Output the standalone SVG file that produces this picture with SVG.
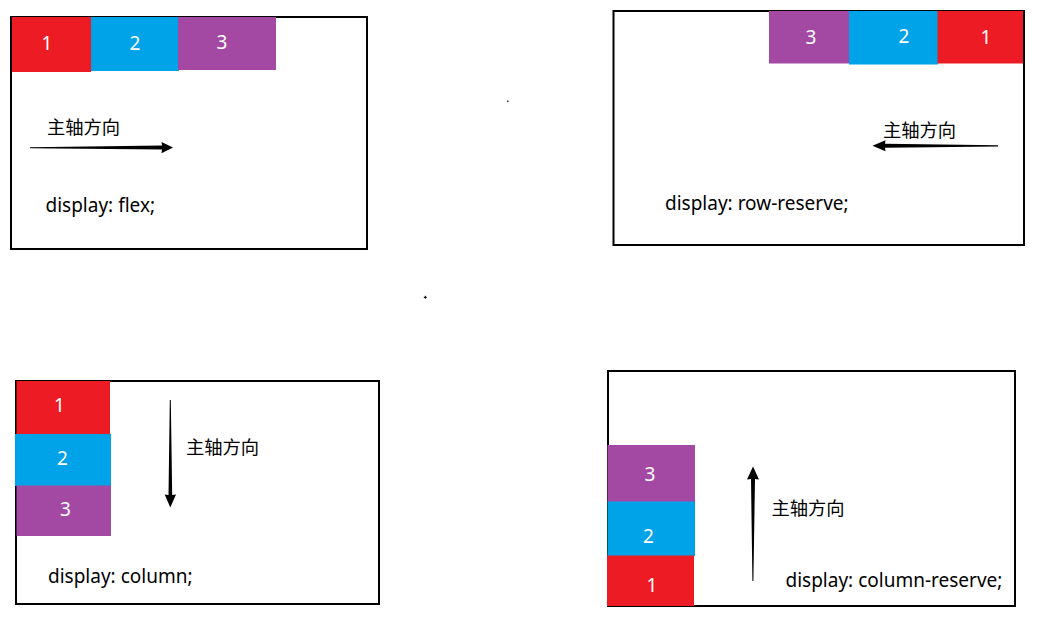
<svg xmlns="http://www.w3.org/2000/svg" width="1041" height="627" viewBox="0 0 1041 627">
<style>
.box{fill:#fff;stroke:#000;stroke-width:2}
.red{fill:#ED1C24}.blue{fill:#00A2E8}.purple{fill:#A349A4}
.num{font-family:"Noto Sans","Noto Sans CJK SC",sans-serif;font-size:19px;fill:#fff;text-anchor:middle}
.lbl{font-family:"Noto Sans","Noto Sans CJK SC",sans-serif;font-size:18.3px;fill:#000}
.code{font-family:"Noto Sans","Noto Sans CJK SC",sans-serif;font-size:19px;fill:#000}
.arr{fill:#000}
</style>
<rect width="1041" height="627" fill="#fff"/>
<g id="flex">
<rect class="box" x="11" y="17" width="356" height="232"/>
<rect class="red" x="12" y="17" width="79" height="55"/>
<rect class="blue" x="91" y="17" width="88" height="54"/>
<rect class="purple" x="178" y="17" width="98" height="53"/>
<text class="num" x="47" y="50">1</text>
<text class="num" x="135" y="50">2</text>
<text class="num" x="222" y="49">3</text>
<text class="lbl" x="47" y="134">主轴方向</text>
<text class="code" x="45.5" y="212">display: flex;</text>
</g>
<g id="row-reserve">
<rect class="box" x="613.5" y="11" width="410.5" height="234"/>
<rect class="purple" x="769" y="11" width="81" height="52.5"/>
<rect class="blue" x="849" y="11" width="89" height="53.5"/>
<rect class="red" x="937.5" y="11" width="85.5" height="52.5"/>
<text class="num" x="811" y="43.5">3</text>
<text class="num" x="904" y="42.5">2</text>
<text class="num" x="986" y="43.5">1</text>
<text class="lbl" x="883" y="136.5">主轴方向</text>
<text class="code" x="665" y="210">display: row-reserve;</text>
</g>
<g id="column">
<rect class="box" x="16" y="381" width="363" height="223"/>
<rect class="red" x="16.5" y="381" width="93.5" height="53"/>
<rect class="blue" x="15" y="434" width="96" height="52"/>
<rect class="purple" x="16.5" y="485.5" width="94.5" height="50.5"/>
<text class="num" x="59.5" y="412">1</text>
<text class="num" x="62.5" y="464.5">2</text>
<text class="num" x="65.5" y="516">3</text>
<text class="lbl" x="186" y="454">主轴方向</text>
<text class="code" x="48" y="583">display: column;</text>
</g>
<g id="column-reserve">
<rect class="box" x="608" y="371" width="407" height="235"/>
<rect class="purple" x="607.5" y="445" width="87.5" height="57"/>
<rect class="blue" x="607.5" y="501.5" width="87.5" height="54.5"/>
<rect class="red" x="607" y="555.5" width="87" height="50.5"/>
<text class="num" x="650" y="480.5">3</text>
<text class="num" x="648.5" y="543">2</text>
<text class="num" x="652" y="591.5">1</text>
<text class="lbl" x="771.5" y="515">主轴方向</text>
<text class="code" x="785.5" y="586.5">display: column-reserve;</text>
</g>
<g id="connectors">
<polygon class="arr" points="30,147.2 162,145.6 161.5,142 173,147.6 161.5,153.2 162,149.6 30,148.2"/>
<polygon class="arr" points="998,145.2 885,143.8 885.5,140.2 872.5,145.8 885.5,151.2 885,147.8 998,146.4"/>
<polygon class="arr" points="169.8,400 168.5,495 164.7,494.5 170.3,507.5 176,494.5 172.2,495 170.8,400"/>
<polygon class="arr" points="752.4,581 751,479 747,479.5 753,466.5 759,479.5 755,479 753.4,581"/>
<rect x="507" y="100.5" width="1.5" height="1.5" fill="#333"/>
<path d="M423.8 297.3H426.8M425.3 295.8V298.8" stroke="#000" stroke-width="1"/>
</g>
</svg>
